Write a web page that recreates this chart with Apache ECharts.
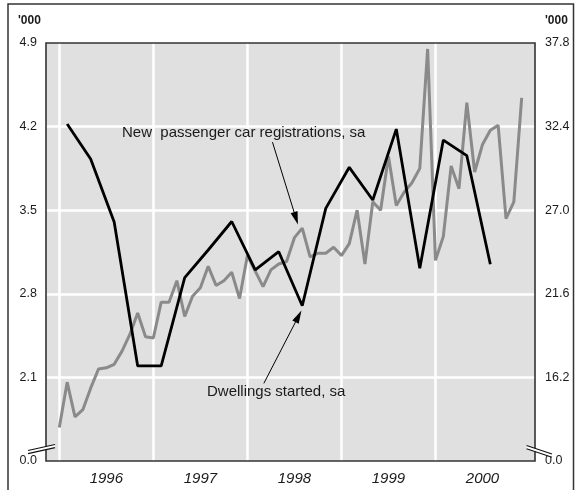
<!DOCTYPE html>
<html>
<head>
<meta charset="utf-8">
<script src="https://cdn.jsdelivr.net/npm/echarts@6/dist/echarts.min.js"></script>
<style>
  html, body { margin: 0; padding: 0; background: #fff; }
  #chart { width: 575px; height: 490px; }
</style>
</head>
<body>
<div id="chart"></div>
<script>
// Monthly new passenger car registrations, seasonally adjusted ('000), Jan 1996 - Dec 2000
const carRegistrations = [
  1.68, 2.06, 1.77, 1.83, 2.01, 2.17, 2.18, 2.21, 2.32, 2.46, 2.64, 2.44,
  2.43, 2.73, 2.73, 2.91, 2.61, 2.78, 2.85, 3.03, 2.87, 2.91, 2.98, 2.76,
  3.12, 2.99, 2.86, 3.00, 3.05, 3.07, 3.27, 3.35, 3.11, 3.14, 3.14, 3.19,
  3.12, 3.22, 3.50, 3.05, 3.57, 3.50, 3.95, 3.54, 3.65, 3.73, 3.85, 4.85,
  3.08, 3.28, 3.87, 3.68, 4.40, 3.82, 4.05, 4.17, 4.21, 3.43, 3.57, 4.44
];
// Quarterly dwellings started, seasonally adjusted ('000), Mar qtr 1996 - Sep qtr 2000
const dwellingsStarted = [
  32.57, 30.31, 26.24, 16.94, 16.94, 22.65, 24.43, 26.27, 23.14, 24.32,
  20.83, 27.12, 29.77, 27.66, 32.24, 23.25, 31.53, 30.52, 23.51
];
const yearLabels = ['1996', '1997', '1998', '1999', '2000'];
const leftTicks = [1.4, 2.1, 2.8, 3.5, 4.2, 4.9];     // lowest tick sits on the axis break
const rightTicks = [10.8, 16.2, 21.6, 27.0, 32.4, 37.8];
const breakLabel = '0.0';

// Month index 0 = January 1996; quarterly points plotted at mid-quarter
const carPoints = carRegistrations.map((v, i) => [i, v]);
const dwellPoints = dwellingsStarted.map((v, k) => [1 + 3 * k, v]);
const yearCentres = yearLabels.map((_, j) => 12 * j + 6);
const yearStarts = yearLabels.map((_, j) => 12 * j);

const FONT = 'Liberation Sans, Arial, Helvetica, sans-serif';
const INK = '#1a1a1a';
const FRAME = '#333333';
const GRID = { left: 46, right: 40, top: 43, bottom: 29 };
const W = 575, H = 490;

const chart = echarts.init(document.getElementById('chart'), null, { renderer: 'canvas' });

function tickFormatter(ticks) {
  return v => (Math.abs(v - ticks[0]) < 1e-6 ? breakLabel : v.toFixed(1));
}

chart.setOption({
  animation: false,
  backgroundColor: '#ffffff',
  grid: Object.assign({ show: true, backgroundColor: '#e0e0e0', borderWidth: 0 }, GRID),
  xAxis: {
    type: 'value',
    min: -1.7,
    max: 60.7,
    axisLine: { show: false },
    axisTick: { show: false, customValues: yearStarts },
    splitLine: { show: true, lineStyle: { color: '#ffffff', width: 2.5 } },
    axisLabel: {
      customValues: yearCentres,
      formatter: v => yearLabels[Math.round((v - 6) / 12)],
      fontFamily: FONT, fontSize: 15, fontStyle: 'italic', color: INK, margin: 10
    }
  },
  yAxis: [
    {
      type: 'value',
      min: leftTicks[0], max: leftTicks[leftTicks.length - 1], interval: 0.7,
      position: 'left',
      axisLine: { show: false, onZero: false },
      axisTick: { show: false },
      splitLine: { show: true, showMinLine: false, showMaxLine: false,
                   lineStyle: { color: '#ffffff', width: 2.5 } },
      axisLabel: { formatter: tickFormatter(leftTicks), fontFamily: FONT, fontSize: 12.5,
                   color: INK, margin: 9 }
    },
    {
      type: 'value',
      min: rightTicks[0], max: rightTicks[rightTicks.length - 1], interval: 5.4,
      position: 'right',
      axisLine: { show: false, onZero: false },
      axisTick: { show: false },
      splitLine: { show: false },
      axisLabel: { formatter: tickFormatter(rightTicks), fontFamily: FONT, fontSize: 12.5,
                   color: INK, margin: 10 }
    }
  ],
  series: [
    {
      name: 'New passenger car registrations, sa',
      type: 'line',
      yAxisIndex: 0,
      data: carPoints,
      showSymbol: false,
      lineStyle: { color: '#8a8a8a', width: 3 },
      z: 3
    },
    {
      name: 'Dwellings started, sa',
      type: 'line',
      yAxisIndex: 1,
      data: dwellPoints,
      showSymbol: false,
      lineStyle: { color: '#000000', width: 2.8 },
      z: 4
    }
  ]
});

// Annotation arrows, anchored in the left-axis data space
const annotations = [
  { text: 'New  passenger car registrations, sa', at: [122, 133], from: [27.2, 4.07], to: [30.45, 3.38] },
  { text: 'Dwellings started, sa', at: [207, 392], from: [26.1, 2.05], to: [30.9, 2.66] }
];

function arrow(p0, p1) {
  const dx = p1[0] - p0[0], dy = p1[1] - p0[1];
  const len = Math.sqrt(dx * dx + dy * dy);
  const ux = dx / len, uy = dy / len;
  const headLen = 13, halfW = 3.6;
  const bx = p1[0] - ux * headLen, by = p1[1] - uy * headLen;
  return [
    { type: 'line', z: 50,
      shape: { x1: p0[0], y1: p0[1], x2: bx, y2: by },
      style: { stroke: '#000', lineWidth: 1 } },
    { type: 'polygon', z: 50,
      shape: { points: [[p1[0], p1[1]], [bx - uy * halfW, by + ux * halfW], [bx + uy * halfW, by - ux * halfW]] },
      style: { fill: '#000' } }
  ];
}

const gfx = [];
// outer frame
gfx.push({ type: 'rect', z: 60, shape: { x: 8, y: 4, width: 565.5, height: 495 },
           style: { fill: 'none', stroke: FRAME, lineWidth: 1.5 } });
// plot frame
gfx.push({ type: 'rect', z: 40,
           shape: { x: GRID.left, y: GRID.top, width: W - GRID.left - GRID.right,
                    height: H - GRID.top - GRID.bottom },
           style: { fill: 'none', stroke: FRAME, lineWidth: 1.6 } });
// units
gfx.push({ type: 'text', z: 60, x: 18, y: 21,
           style: { text: "'000", fontFamily: FONT, fontSize: 12, fontWeight: 'bold', fill: INK,
                    textVerticalAlign: 'middle' } });
gfx.push({ type: 'text', z: 60, x: 545, y: 21,
           style: { text: "'000", fontFamily: FONT, fontSize: 12, fontWeight: 'bold', fill: INK,
                    textVerticalAlign: 'middle' } });
// axis break marks
function breakMark(a, b, gap) {
  const pts = [a, b, [b[0], b[1] + gap], [a[0], a[1] + gap]];
  return [
    { type: 'polygon', z: 55, shape: { points: pts }, style: { fill: '#ffffff' } },
    { type: 'line', z: 56, shape: { x1: a[0], y1: a[1], x2: b[0], y2: b[1] },
      style: { stroke: '#111', lineWidth: 1.2 } },
    { type: 'line', z: 56, shape: { x1: a[0], y1: a[1] + gap, x2: b[0], y2: b[1] + gap },
      style: { stroke: '#111', lineWidth: 1.2 } }
  ];
}
gfx.push(...breakMark([28, 450.5], [55, 444.5], 3.2));
gfx.push(...breakMark([526.5, 445.5], [552, 454], 3.2));

annotations.forEach(a => {
  const p0 = chart.convertToPixel({ xAxisIndex: 0, yAxisIndex: 0 }, a.from);
  const p1 = chart.convertToPixel({ xAxisIndex: 0, yAxisIndex: 0 }, a.to);
  gfx.push(...arrow(p0, p1));
  gfx.push({ type: 'text', z: 50, x: a.at[0], y: a.at[1],
             style: { text: a.text, fontFamily: FONT, fontSize: 15, fill: INK,
                      textVerticalAlign: 'middle' } });
});

chart.setOption({ graphic: { elements: gfx } });
</script>
</body>
</html>
